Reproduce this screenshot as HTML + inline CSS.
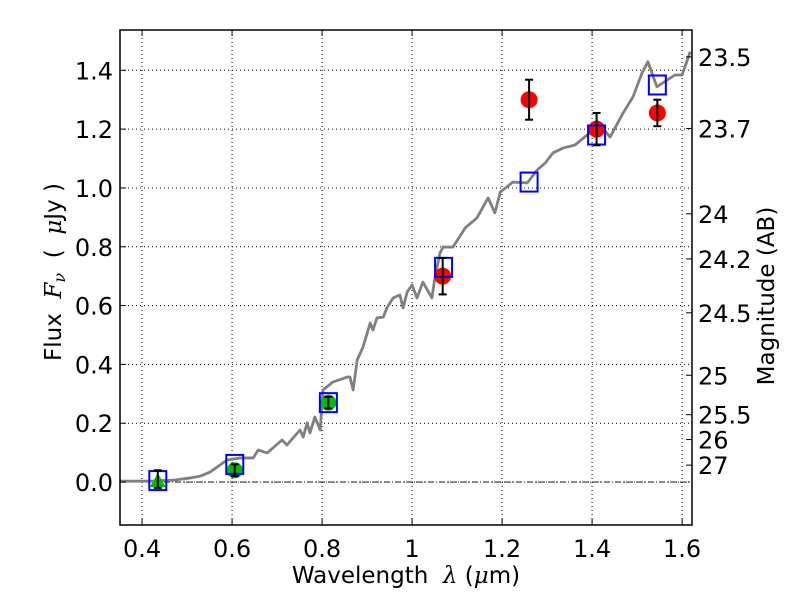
<!DOCTYPE html>
<html><head><meta charset="utf-8">
<style>
html,body{margin:0;padding:0;background:#fff;}
svg{display:block;font-family:"DejaVu Sans","Liberation Sans",sans-serif;}
</style></head>
<body>
<svg id="chart" width="800" height="600" viewBox="0 0 800 600"></svg>
<script>
const specX=[0.351,0.418,0.473,0.507,0.529,0.551,0.589,0.618,0.647,0.658,0.678,0.711,0.722,0.751,0.758,0.767,0.773,0.784,0.796,0.802,0.824,0.856,0.862,0.869,0.878,0.891,0.907,0.913,0.922,0.936,0.944,0.958,0.973,0.980,0.989,1.000,1.011,1.024,1.044,1.051,1.062,1.069,1.091,1.118,1.144,1.169,1.184,1.196,1.224,1.256,1.278,1.296,1.313,1.336,1.362,1.389,1.418,1.440,1.469,1.491,1.511,1.524,1.544,1.567,1.584,1.600,1.618];
const specY=[0.003,0.003,0.007,0.014,0.020,0.034,0.075,0.082,0.082,0.109,0.099,0.143,0.126,0.177,0.153,0.201,0.167,0.221,0.177,0.313,0.340,0.357,0.357,0.313,0.415,0.459,0.541,0.517,0.558,0.561,0.592,0.626,0.636,0.592,0.646,0.670,0.626,0.680,0.626,0.697,0.779,0.799,0.799,0.864,0.898,0.966,0.915,0.986,1.020,1.017,1.061,1.085,1.119,1.136,1.146,1.180,1.214,1.173,1.255,1.310,1.391,1.429,1.344,1.367,1.384,1.384,1.463];
const modelX=[0.435,0.606,0.814,1.070,1.260,1.410,1.545];
const modelY=[0.005,0.060,0.270,0.730,1.020,1.180,1.350];
const redX=[1.068,1.260,1.410,1.545];
const redY=[0.700,1.300,1.200,1.255];
const redErr=[0.062,0.068,0.055,0.045];
const greenX=[0.606,0.814];
const greenY=[0.040,0.270];
const greenErr=[0.020,0.020];
const triX=[0.435];
const triY=[0.010];
const triErr=[0.030];
const xTicks=[0.4,0.6,0.8,1.0,1.2,1.4,1.6];
const xTickLabels=["0.4","0.6","0.8","1","1.2","1.4","1.6"];
const yTicks=[0.0,0.2,0.4,0.6,0.8,1.0,1.2,1.4];
const yTickLabels=["0.0","0.2","0.4","0.6","0.8","1.0","1.2","1.4"];
const magTicks=[23.5,23.7,24,24.2,24.5,25,25.5,26,27];
const magLabels=["23.5","23.7","24","24.2","24.5","25","25.5","26","27"];

const L=120,R=692,T=30,B=525;
const xMin=0.351,xMax=1.622,yMin=-0.146,yMax=1.537;
const X=v=>L+(v-xMin)/(xMax-xMin)*(R-L);
const Y=v=>B-(v-yMin)/(yMax-yMin)*(B-T);
const NS="http://www.w3.org/2000/svg";
const svg=document.getElementById('chart');
function mk(tag,attrs,parent){const e=document.createElementNS(NS,tag);for(const k in attrs)e.setAttribute(k,attrs[k]);(parent||svg).appendChild(e);return e;}

xTicks.forEach((t,i)=>{
  const g=mk('line',{x1:X(t),x2:X(t),y1:T,y2:B,stroke:'#000','stroke-width':1,'stroke-dasharray':'1,3'});
  
  
});
yTicks.forEach((t,i)=>{
  const g=mk('line',{x1:L,x2:R,y1:Y(t),y2:Y(t),stroke:'#000','stroke-width':1,'stroke-dasharray':'1,3'});
  
  
});
const z=mk('line',{x1:L,x2:R,y1:Y(0),y2:Y(0),stroke:'#000','stroke-width':0.8,'stroke-dasharray':'6,2,1,2'});



const sp=mk('polyline',{points:specX.map((x,i)=>X(x)+','+Y(specY[i])).join(' '),fill:'none',stroke:'#808080','stroke-width':2.8,'stroke-linejoin':'round'});



triX.forEach((x,i)=>{
  const cx=X(x),cy=Y(triY[i]);
  const t=mk('polygon',{points:`${cx},${cy-6} ${cx-8},${cy+8} ${cx+8},${cy+8}`,fill:'#00bb00'});
  
  
});
greenX.forEach((x,i)=>{
  const c=mk('circle',{cx:X(x),cy:Y(greenY[i]),r:8,fill:'#00bb00'});
  
  
});
redX.forEach((x,i)=>{
  const c=mk('circle',{cx:X(x),cy:Y(redY[i]),r:8.5,fill:'#ff0000'});
  
  
});
modelX.forEach((x,i)=>{
  const s=mk('rect',{x:X(x)-8.5,y:Y(modelY[i])-9.5,width:17,height:19,fill:'none',stroke:'#0000ff','stroke-width':2});
  
  
});
function ebar(x,y,e){
  const g=mk('g',{stroke:'#000','stroke-width':2});
  
  
  const cx=X(x),y1=Y(y+e),y2=Y(y-e);
  mk('line',{x1:cx,x2:cx,y1:y1,y2:y2},g);
  mk('line',{x1:cx-4,x2:cx+4,y1:y1,y2:y1},g);
  mk('line',{x1:cx-4,x2:cx+4,y1:y2,y2:y2},g);
}
triX.forEach((x,i)=>ebar(x,triY[i],triErr[i]));
greenX.forEach((x,i)=>ebar(x,greenY[i],greenErr[i]));
redX.forEach((x,i)=>ebar(x,redY[i],redErr[i]));

const fr=mk('rect',{x:L,y:T,width:R-L,height:B-T,fill:'none',stroke:'#000','stroke-width':1.5});



xTicks.forEach((t,i)=>{
  mk('line',{x1:X(t),x2:X(t),y1:B,y2:B-6,stroke:'#000'});
  mk('line',{x1:X(t),x2:X(t),y1:T,y2:T+6,stroke:'#000'});
  const tx=mk('text',{x:X(t),y:B+32,'font-size':24,'text-anchor':'middle'});
  tx.textContent=xTickLabels[i];
  
  
});
yTicks.forEach((t,i)=>{
  mk('line',{x1:L,x2:L+6,y1:Y(t),y2:Y(t),stroke:'#000'});
  const tx=mk('text',{x:L-7,y:Y(t)+9,'font-size':24,'text-anchor':'end'});
  tx.textContent=yTickLabels[i];
  
  
});
magTicks.forEach((m,i)=>{
  const f=Math.pow(10,-(m-23.9)/2.5);
  mk('line',{x1:R,x2:R-6,y1:Y(f),y2:Y(f),stroke:'#000'});
  const tx=mk('text',{x:R+6,y:Y(f)+9,'font-size':24,'text-anchor':'start'});
  tx.textContent=magLabels[i];
  
  
});
</script>
<svg style="position:absolute;left:0;top:0" width="800" height="600">
<text x="406" y="583" font-size="23" text-anchor="middle" font-family="DejaVu Sans, Liberation Sans, sans-serif">Wavelength&#160; <tspan font-style="italic" font-family="DejaVu Serif, serif">λ</tspan> (<tspan font-style="italic" font-family="DejaVu Serif, serif">μ</tspan>m)</text>
<text transform="translate(61,272) rotate(-90)" font-size="23" text-anchor="middle" font-family="DejaVu Sans, Liberation Sans, sans-serif">Flux&#160; <tspan font-style="italic" font-family="DejaVu Serif, serif">F<tspan font-size="16" dy="4">ν</tspan></tspan><tspan dy="-4">&#160; (&#160; </tspan><tspan font-style="italic" font-family="DejaVu Serif, serif">μ</tspan>Jy )</text>
<text transform="translate(774,296) rotate(-90)" font-size="23" text-anchor="middle" font-family="DejaVu Sans, Liberation Sans, sans-serif">Magnitude (AB)</text>
</svg>
</body></html>
